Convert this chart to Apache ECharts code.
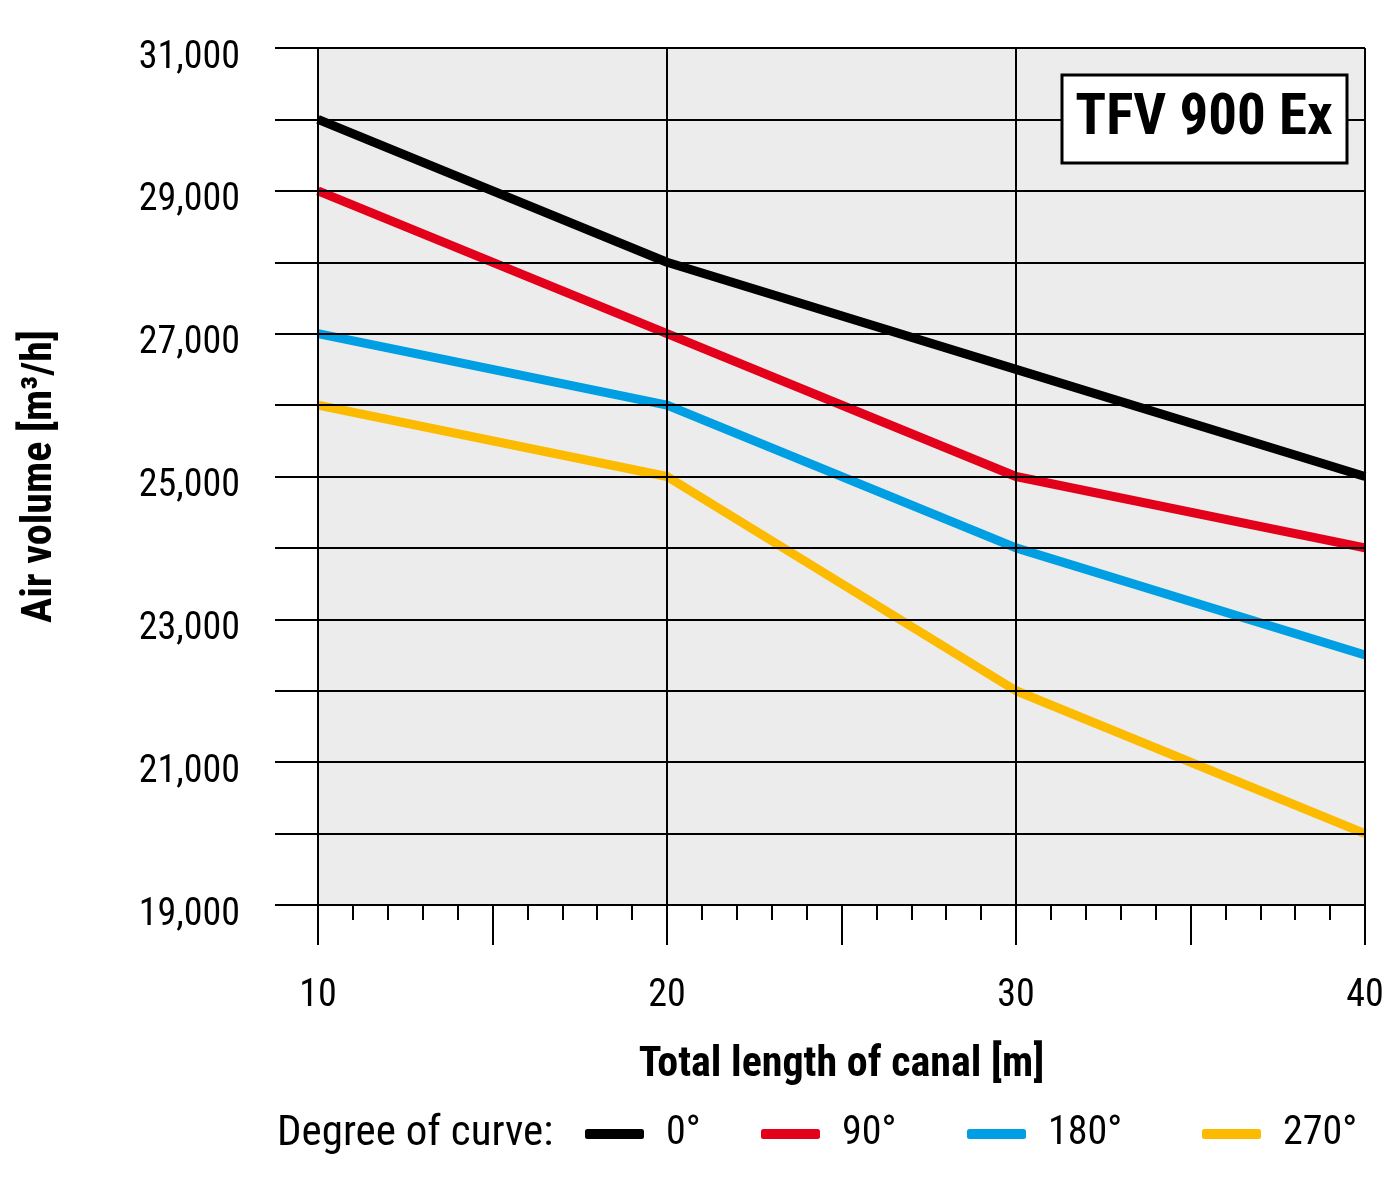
<!DOCTYPE html>
<html>
<head>
<meta charset="utf-8">
<script src="https://cdn.jsdelivr.net/npm/echarts@6/dist/echarts.min.js"></script>
<style>html,body{margin:0;padding:0;background:#fff}#c{width:1400px;height:1181px}</style>
</head>
<body>
<div id="c"></div>
<script>
const xValues = [10, 20, 30, 40];
const seriesNames = ['0°', '90°', '180°', '270°'];
const deg0 = [30000, 28000, 26500, 25000];
const deg90 = [29000, 27000, 25000, 24000];
const deg180 = [27000, 26000, 24000, 22500];
const deg270 = [26000, 25000, 22000, 20000];
const colors = ['#000000', '#e2001a', '#009fe3', '#fcbb00'];
const yLabelValues = [19000, 21000, 23000, 25000, 27000, 29000, 31000];
const legendLefts = [585, 761, 967, 1202];

const FONT = "'Roboto Condensed', 'DejaVu Sans Condensed', sans-serif";
const allSeries = [deg0, deg90, deg180, deg270];

const chart = echarts.init(document.getElementById('c'), null, {renderer: 'canvas'});
chart.setOption({
  animation: false,
  backgroundColor: '#ffffff',
  grid: {left: 318, right: 35, top: 48, bottom: 276, show: true, backgroundColor: '#ebeceb', borderWidth: 0},
  legend: seriesNames.map((n, i) => ({
    data: [n],
    left: legendLefts[i], top: 1114, padding: 0,
    itemWidth: 59, itemHeight: 10,
    icon: 'roundRect',
    textStyle: {fontFamily: FONT, fontSize: 40, lineHeight: 40, color: '#000', padding: [0, 0, 0, 17]}
  })),
  xAxis: [{
    type: 'value', min: 10, max: 40, interval: 10, z: 5,
    axisLine: {show: true, lineStyle: {color: '#000', width: 2}},
    axisTick: {show: true, length: 40, lineStyle: {color: '#000', width: 2}},
    minorTick: {show: true, splitNumber: 10, length: 15, lineStyle: {color: '#000', width: 2}},
    splitLine: {show: true, lineStyle: {color: '#000', width: 2}},
    axisLabel: {margin: 72, fontFamily: FONT, fontSize: 38, color: '#000'},
    name: 'Total length of canal [m]', nameLocation: 'middle', nameGap: 139,
    nameTextStyle: {fontFamily: FONT, fontSize: 42, fontWeight: 'bold', color: '#000'}
  }, {
    type: 'value', min: 10, max: 40, interval: 5, z: 5, position: 'bottom',
    axisLine: {show: false},
    axisTick: {show: true, length: 40, lineStyle: {color: '#000', width: 2}},
    splitLine: {show: false},
    axisLabel: {show: false}
  }],
  yAxis: {
    type: 'value', min: 19000, max: 31000, interval: 1000, z: 5,
    axisLine: {show: false},
    axisTick: {show: true, length: 43, lineStyle: {color: '#000', width: 2}},
    splitLine: {show: true, lineStyle: {color: '#000', width: 2}},
    axisLabel: {
      margin: 78, fontFamily: FONT, fontSize: 38, color: '#000',
      formatter: v => yLabelValues.indexOf(v) >= 0 ? '{a|' + v.toLocaleString('en-US') + '}' : '',
      rich: {a: {fontFamily: FONT, fontSize: 38, color: '#000', padding: [20, 0, 0, 0]}}
    },
    name: 'Air volume [m³/h]', nameLocation: 'middle', nameGap: 257, nameRotate: 90,
    nameTextStyle: {fontFamily: FONT, fontSize: 42, fontWeight: 'bold', color: '#000'}
  },
  series: allSeries.map((d, i) => ({
    name: seriesNames[i], type: 'line', xAxisIndex: 0, z: 2,
    data: d.map((v, j) => [xValues[j], v]),
    showSymbol: false, symbol: 'none',
    lineStyle: {color: colors[i], width: 9, cap: 'butt', join: 'round'},
    itemStyle: {color: colors[i]}
  })),
  graphic: [
    {type: 'text', x: 277, y: 1134, z: 10,
     style: {text: 'Degree of curve:', fontFamily: FONT, fontSize: 43, fill: '#000', verticalAlign: 'middle'}},
    {type: 'rect', shape: {x: 1062, y: 75, width: 285, height: 88}, z: 10,
     style: {fill: '#fff', stroke: '#000', lineWidth: 3}},
    {type: 'text', x: 1204, y: 120, z: 11,
     style: {text: 'TFV 900 Ex', fontFamily: FONT, fontSize: 57, fontWeight: 'bold', fill: '#000', align: 'center', verticalAlign: 'middle'}}
  ]
});
</script>
</body>
</html>
